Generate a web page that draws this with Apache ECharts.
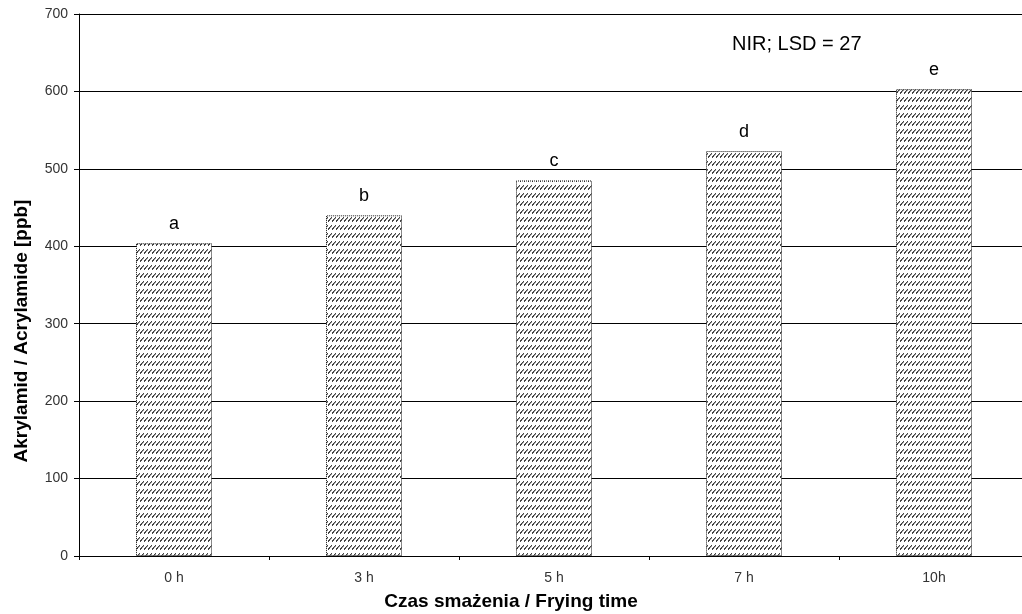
<!DOCTYPE html>
<html><head><meta charset="utf-8">
<script src="https://cdn.jsdelivr.net/npm/echarts@6/dist/echarts.min.js"></script>
<style>html,body{margin:0;padding:0;background:#fff;overflow:hidden}#c{width:1022px;height:614px}</style>
</head><body><div id="c"></div>
<script>
const categories = ['0 h', '3 h', '5 h', '7 h', '10h'];
const values = [404, 440, 485, 523, 603];
const letters = ['a', 'b', 'c', 'd', 'e'];
const yTicks = [0, 100, 200, 300, 400, 500, 600, 700];

const pc = document.createElement('canvas');
pc.width = 4; pc.height = 8;
const g = pc.getContext('2d');
g.fillStyle = '#fff'; g.fillRect(0, 0, 4, 8);
g.fillStyle = '#444';
[[0,5],[1,4],[1,3],[2,2],[3,1],[0,4]].forEach(p => g.fillRect(p[0], p[1], 1, 1));
g.fillStyle = '#999';
[[2,3],[3,2]].forEach(p => g.fillRect(p[0], p[1], 1, 1));

const chart = echarts.init(document.getElementById('c'));
chart.setOption({
  animation: false,
  grid: { left: 79, top: 14, width: 950, height: 542, outerBoundsMode: 'none', containLabel: false },
  xAxis: {
    type: 'category', data: categories,
    axisLine: { lineStyle: { color: '#000', width: 1 } },
    axisTick: { show: true, length: 4, lineStyle: { color: '#000' } },
    axisLabel: { color: '#333', fontSize: 14, fontFamily: 'Liberation Sans', margin: 15 }
  },
  yAxis: {
    type: 'value', min: 0, max: 700, interval: 100,
    axisLine: { show: true, lineStyle: { color: '#000', width: 1 } },
    axisTick: { show: true, length: 5, lineStyle: { color: '#000' } },
    splitLine: { lineStyle: { color: '#000', width: 1 } },
    axisLabel: { color: '#333', fontSize: 14, fontFamily: 'Liberation Sans', margin: 11,
      formatter: v => yTicks.includes(v) ? String(v) : '' }
  },
  series: [{
    type: 'bar', data: values, barWidth: '40%',
    itemStyle: { color: { image: pc, repeat: 'repeat' }, borderColor: '#111', borderWidth: 1, borderType: 'dotted' },
    label: { show: true, position: 'top', distance: 10, fontSize: 18, color: '#000', fontFamily: 'Liberation Sans',
      formatter: p => letters[p.dataIndex] }
  }],
  graphic: [{
    type: 'text', left: 732, top: 34,
    style: { text: 'NIR; LSD = 27', fontSize: 20, fill: '#000', fontFamily: 'Liberation Sans' }
  }, {
    type: 'text', x: 511, y: 602,
    style: { text: 'Czas smażenia / Frying time', fontSize: 19, fontWeight: 'bold', fill: '#000',
      fontFamily: 'Liberation Sans', align: 'center', verticalAlign: 'middle' }
  }, {
    type: 'text', x: 22, y: 331, rotation: Math.PI / 2,
    style: { text: 'Akrylamid / Acrylamide [ppb]', fontSize: 19, fontWeight: 'bold', fill: '#000',
      fontFamily: 'Liberation Sans', align: 'center', verticalAlign: 'middle' }
  }]
});
</script></body></html>
